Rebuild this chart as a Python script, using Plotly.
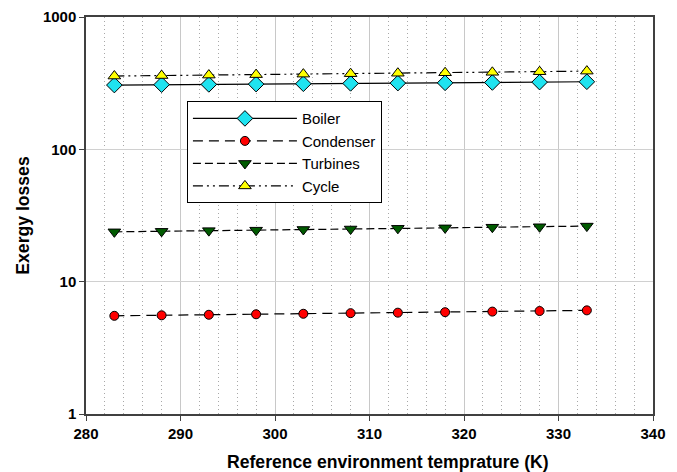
import plotly.graph_objects as go

temps = [283, 288, 293, 298, 303, 308, 313, 318, 323, 328, 333]
boiler = [306, 308, 309.5, 311, 313, 315, 316.5, 318, 320, 322, 324]
condenser = [5.52, 5.57, 5.62, 5.67, 5.72, 5.78, 5.83, 5.88, 5.94, 6.0, 6.07]
turbines = [23.8, 24.0, 24.3, 24.5, 24.8, 25.0, 25.3, 25.5, 25.8, 26.0, 26.3]
cycle = [358, 361, 364, 367, 370, 373, 376, 379, 382, 386, 390]

y_tickvals = [1, 10, 100, 1000]
y_ticktext = ["1", "10", "100", "1000"]
x_tickvals = [280, 290, 300, 310, 320, 330, 340]
x_title = "Reference environment temprature (K)"
y_title = "Exergy losses"

FONT = "Liberation Sans, Arial, sans-serif"

fig = go.Figure()
series = [
    ("Boiler", boiler, "solid", "diamond", "#1fe3f0", 12),
    ("Condenser", condenser, "10px,6px", "circle", "#ff0000", 9),
    ("Turbines", turbines, "8px,4px", "triangle-down", "#005a00", 11),
    ("Cycle", cycle, "10px,4px,2px,4px,2px,4px", "triangle-up", "#ffff00", 11),
]
for name, vals, dash, sym, col, sz in series:
    fig.add_trace(go.Scatter(
        x=temps, y=vals, name=name, mode="lines+markers",
        line=dict(color="black", width=1.2, dash=dash),
        marker=dict(symbol=sym, color=col, size=sz, line=dict(color="black", width=1)),
    ))

fig.update_layout(
    width=677, height=472,
    margin=dict(l=78, r=32, t=9, b=66),
    paper_bgcolor="white", plot_bgcolor="white",
    font=dict(family=FONT, color="black"),
    showlegend=True,
    legend=dict(
        x=0.178, y=0.788, xanchor="left", yanchor="top",
        bgcolor="white", bordercolor="black", borderwidth=1,
        font=dict(size=15, family=FONT),
        itemwidth=104, tracegroupgap=0,
    ),
    annotations=[dict(
        text="<b>" + x_title + "</b>", xref="paper", yref="paper",
        x=0.5335, y=-0.12, xanchor="center", yanchor="middle", showarrow=False,
        font=dict(size=17.6, family=FONT, color="black"),
    )],
)
fig.update_xaxes(
    range=[280, 340], tickvals=x_tickvals, automargin=False,
    showline=True, mirror=True, linecolor="#404040", linewidth=1.5,
    ticks="outside", ticklen=5, tickcolor="#404040",
    showgrid=True, gridcolor="#c8c8c8", gridwidth=1,
    minor=dict(dtick=2, showgrid=True, griddash="1px,3px", gridcolor="#a8a8a8", gridwidth=1),
    tickfont=dict(size=15, family=FONT, weight="bold"),
    zeroline=False,
)
fig.update_yaxes(
    type="log", range=[0, 3], tickvals=y_tickvals, ticktext=y_ticktext, automargin=False,
    showline=True, mirror=True, linecolor="#404040", linewidth=1.5,
    ticks="outside", ticklen=5, tickcolor="#404040",
    showgrid=True, gridcolor="#d0d0d0", gridwidth=1,
    tickfont=dict(size=15, family=FONT, weight="bold"),
    title=dict(text="<b>" + y_title + "</b>", font=dict(size=17.6, family=FONT), standoff=9),
    zeroline=False,
)

fig.write_html("out.html")
